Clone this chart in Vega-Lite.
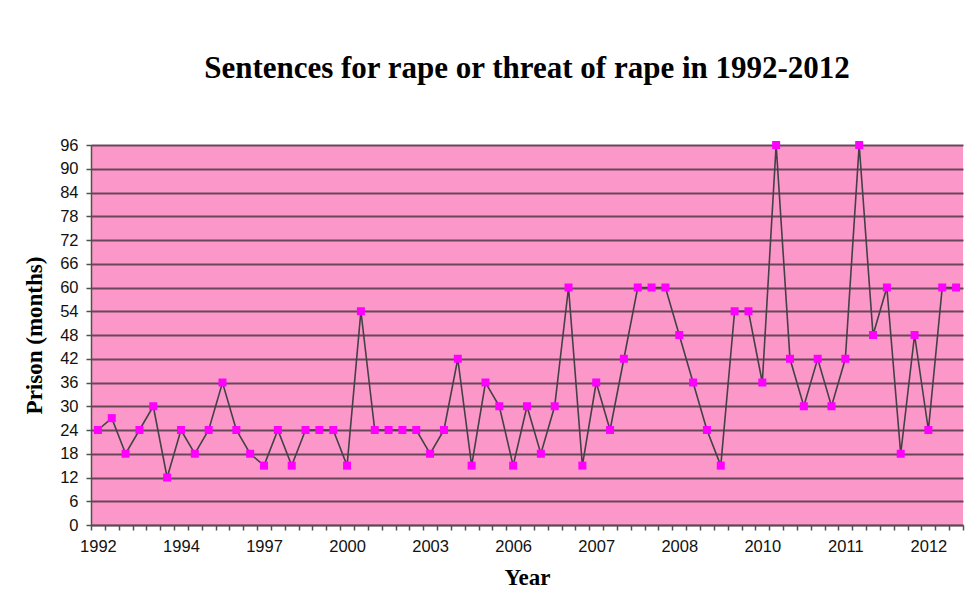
{
  "$schema": "https://vega.github.io/schema/vega-lite/v6.json",
  "width": 872,
  "height": 380,
  "autosize": {"type": "none"},
  "padding": {"left": 91, "top": 145, "right": 5, "bottom": 76},
  "background": "#ffffff",
  "title": {
    "text": "Sentences for rape or threat of rape in 1992-2012",
    "font": "Liberation Serif",
    "fontSize": 31,
    "fontWeight": "bold",
    "color": "#000000",
    "anchor": "middle",
    "frame": "group",
    "offset": 52
  },
  "config": {
    "view": {"stroke": null, "fill": "#fc98c9"},
    "axis": {
      "labelFont": "Liberation Sans",
      "labelFontSize": 16.5,
      "labelColor": "#111111",
      "titleFont": "Liberation Serif",
      "titleFontSize": 23,
      "titleFontWeight": "bold",
      "titleColor": "#000000",
      "domainColor": "#505050",
      "domainWidth": 1.5,
      "tickColor": "#505050",
      "tickWidth": 1.5,
      "tickSize": 5
    }
  },
  "data": {
    "values": [
      {"i": 0, "months": 24}, {"i": 1, "months": 27}, {"i": 2, "months": 18}, {"i": 3, "months": 24},
      {"i": 4, "months": 30}, {"i": 5, "months": 12}, {"i": 6, "months": 24}, {"i": 7, "months": 18},
      {"i": 8, "months": 24}, {"i": 9, "months": 36}, {"i": 10, "months": 24}, {"i": 11, "months": 18},
      {"i": 12, "months": 15}, {"i": 13, "months": 24}, {"i": 14, "months": 15}, {"i": 15, "months": 24},
      {"i": 16, "months": 24}, {"i": 17, "months": 24}, {"i": 18, "months": 15}, {"i": 19, "months": 54},
      {"i": 20, "months": 24}, {"i": 21, "months": 24}, {"i": 22, "months": 24}, {"i": 23, "months": 24},
      {"i": 24, "months": 18}, {"i": 25, "months": 24}, {"i": 26, "months": 42}, {"i": 27, "months": 15},
      {"i": 28, "months": 36}, {"i": 29, "months": 30}, {"i": 30, "months": 15}, {"i": 31, "months": 30},
      {"i": 32, "months": 18}, {"i": 33, "months": 30}, {"i": 34, "months": 60}, {"i": 35, "months": 15},
      {"i": 36, "months": 36}, {"i": 37, "months": 24}, {"i": 38, "months": 42}, {"i": 39, "months": 60},
      {"i": 40, "months": 60}, {"i": 41, "months": 60}, {"i": 42, "months": 48}, {"i": 43, "months": 36},
      {"i": 44, "months": 24}, {"i": 45, "months": 15}, {"i": 46, "months": 54}, {"i": 47, "months": 54},
      {"i": 48, "months": 36}, {"i": 49, "months": 96}, {"i": 50, "months": 42}, {"i": 51, "months": 30},
      {"i": 52, "months": 42}, {"i": 53, "months": 30}, {"i": 54, "months": 42}, {"i": 55, "months": 96},
      {"i": 56, "months": 48}, {"i": 57, "months": 60}, {"i": 58, "months": 18}, {"i": 59, "months": 48},
      {"i": 60, "months": 24}, {"i": 61, "months": 60}, {"i": 62, "months": 60}
    ]
  },
  "encoding": {
    "x": {
      "field": "i",
      "type": "ordinal",
      "scale": {"type": "band", "paddingInner": 0, "paddingOuter": 0},
      "axis": {
        "title": "Year",
        "labelAngle": 0,
        "labelPadding": 8,
        "titlePadding": 12,
        "tickBand": "extent",
        "grid": false,
        "labelOverlap": false,
        "labelExpr": "datum.value % 6 == 0 ? ['1992','1994','1997','2000','2003','2006','2007','2008','2010','2011','2012'][datum.value / 6] : ''"
      }
    },
    "y": {
      "field": "months",
      "type": "quantitative",
      "scale": {"domain": [0, 96], "nice": false},
      "axis": {
        "title": "Prison (months)",
        "values": [0, 6, 12, 18, 24, 30, 36, 42, 48, 54, 60, 66, 72, 78, 84, 90, 96],
        "grid": true,
        "gridColor": "#6a465a",
        "gridWidth": 2,
        "labelPadding": 8,
        "titlePadding": 13
      }
    }
  },
  "layer": [
    {
      "mark": {"type": "line", "color": "#454045", "strokeWidth": 1.6}
    },
    {
      "mark": {"type": "square", "color": "#ff00ff", "size": 64, "opacity": 1, "filled": true}
    }
  ]
}
